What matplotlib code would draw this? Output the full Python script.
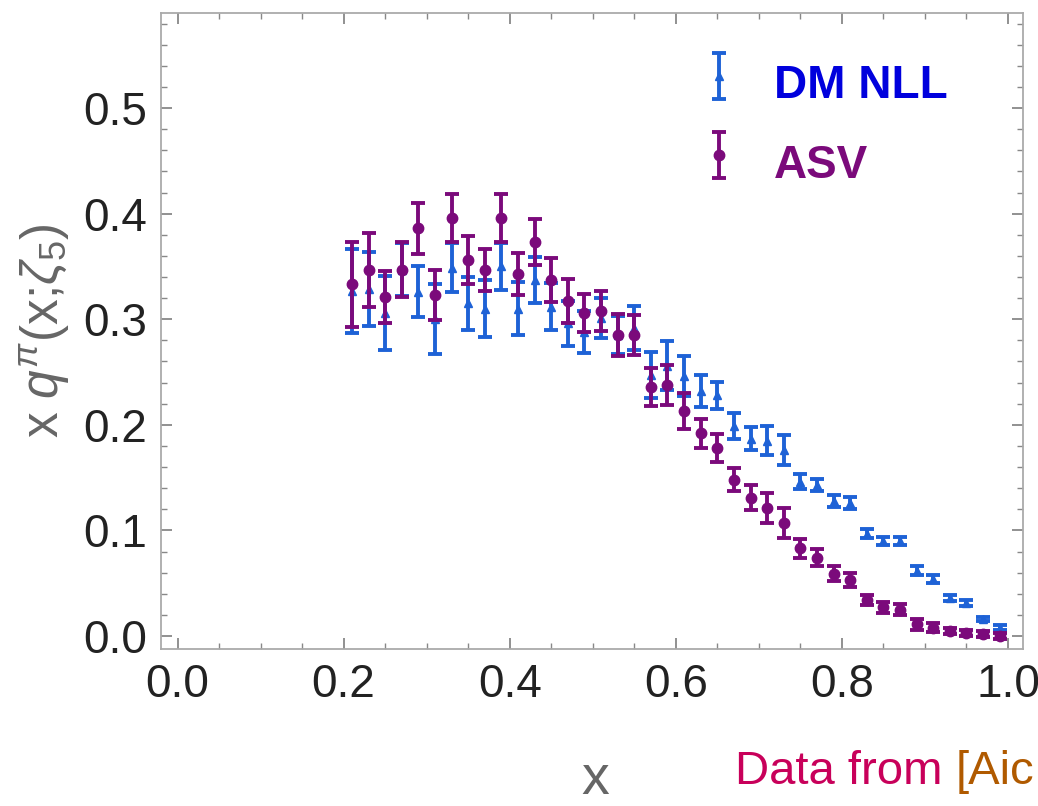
import matplotlib
matplotlib.use("Agg")
import matplotlib.pyplot as plt
import numpy as np
from matplotlib.ticker import MultipleLocator

plt.rcParams['font.family'] = ['Liberation Sans', 'DejaVu Sans']
plt.rcParams['mathtext.fontset'] = 'custom'
plt.rcParams['mathtext.rm'] = 'Liberation Sans'
plt.rcParams['mathtext.it'] = 'Liberation Sans:italic'

x_vals = [0.21, 0.23, 0.25, 0.27, 0.29, 0.31, 0.33, 0.35, 0.37, 0.39,
          0.41, 0.43, 0.45, 0.47, 0.49, 0.51, 0.53, 0.55, 0.57, 0.59,
          0.61, 0.63, 0.65, 0.67, 0.69, 0.71, 0.73, 0.75, 0.77, 0.79,
          0.81, 0.83, 0.85, 0.87, 0.89, 0.91, 0.93, 0.95, 0.97, 0.99]

dm_nll = [0.327, 0.329, 0.306, 0.347, 0.326, 0.300, 0.349, 0.315, 0.310, 0.350,
          0.310, 0.337, 0.312, 0.296, 0.288, 0.301, 0.285, 0.292, 0.247, 0.256,
          0.246, 0.232, 0.228, 0.199, 0.187, 0.185, 0.176, 0.146, 0.143, 0.128,
          0.126, 0.097, 0.090, 0.090, 0.062, 0.054, 0.036, 0.031, 0.016, 0.008]
dm_nll_err = [0.040, 0.035, 0.035, 0.025, 0.024, 0.033, 0.023, 0.025, 0.027, 0.022,
              0.025, 0.022, 0.022, 0.021, 0.020, 0.019, 0.018, 0.021, 0.022, 0.023,
              0.019, 0.015, 0.013, 0.012, 0.011, 0.014, 0.014, 0.007, 0.006, 0.006,
              0.006, 0.004, 0.004, 0.004, 0.004, 0.004, 0.003, 0.003, 0.002, 0.002]

asv = [0.333, 0.347, 0.321, 0.347, 0.386, 0.323, 0.396, 0.356, 0.347, 0.396,
       0.343, 0.373, 0.337, 0.317, 0.306, 0.308, 0.285, 0.285, 0.236, 0.238,
       0.213, 0.192, 0.178, 0.148, 0.131, 0.121, 0.107, 0.083, 0.074, 0.059,
       0.053, 0.034, 0.027, 0.025, 0.011, 0.008, 0.005, 0.003, 0.002, 0.000]
asv_err = [0.040, 0.035, 0.025, 0.026, 0.024, 0.024, 0.023, 0.023, 0.020, 0.023,
           0.020, 0.022, 0.021, 0.021, 0.018, 0.019, 0.020, 0.019, 0.018, 0.019,
           0.017, 0.014, 0.013, 0.011, 0.012, 0.014, 0.014, 0.009, 0.008, 0.007,
           0.007, 0.005, 0.005, 0.005, 0.005, 0.004, 0.003, 0.003, 0.003, 0.003]

x_ticks = [0.0, 0.2, 0.4, 0.6, 0.8, 1.0]
y_ticks = [0.0, 0.1, 0.2, 0.3, 0.4, 0.5]

BLUE = '#1e62d6'
PURPLE = '#7b0a7b'

fig = plt.figure(figsize=(10.38, 8.06), dpi=100)
ax = fig.add_axes([0.155, 0.1948, 0.8305, 0.789])

h1 = ax.errorbar(x_vals, dm_nll, yerr=dm_nll_err, fmt='^', color=BLUE,
                 ms=5.5, elinewidth=2.8, capsize=5, capthick=2.8, zorder=2)
h2 = ax.errorbar(x_vals, asv, yerr=asv_err, fmt='o', color=PURPLE,
                 ms=7.5, elinewidth=2.8, capsize=5, capthick=2.8, zorder=3)

ax.set_xlim(-0.02, 1.018)
ax.set_ylim(-0.0123, 0.59)
ax.set_xticks(x_ticks)
ax.set_xticklabels([f"{t:.1f}" for t in x_ticks])
ax.set_yticks(y_ticks)
ax.set_yticklabels([f"{t:.1f}" for t in y_ticks])
ax.xaxis.set_minor_locator(MultipleLocator(0.05))
ax.yaxis.set_minor_locator(MultipleLocator(0.02))
ax.tick_params(which='both', direction='in', top=True, right=True,
               color='#888888', labelsize=33, labelcolor='#222222', pad=10)
ax.tick_params(which='major', length=8, width=1.3)
ax.tick_params(which='minor', length=4, width=1.0)
for s in ax.spines.values():
    s.set_color('#aaaaaa')
    s.set_linewidth(1.3)

ax.set_ylabel(r'x $q^{\pi}$(x;$\zeta_5$)', fontsize=37, color='#666666', labelpad=8)
fig.text(0.573, 0.0, 'x', fontsize=40, color='#666666', ha='center', va='bottom')

leg = ax.legend([h1, h2], ['DM NLL', 'ASV'], loc='upper left',
                bbox_to_anchor=(0.61, 0.965), frameon=False,
                prop={'size': 33, 'weight': 'bold'}, handlelength=0.6,
                handleheight=1.6, handletextpad=0.9, labelspacing=0.45,
                borderaxespad=0)
for t, c in zip(leg.get_texts(), ['#0000dd', PURPLE]):
    t.set_color(c)

t1 = fig.text(0.708, 0.015, 'Data from ', fontsize=34, color='#c8005a', ha='left', va='bottom')
fig.canvas.draw()
bb = t1.get_window_extent()
x_end = fig.transFigure.inverted().transform((bb.x1, bb.y0))[0]
fig.text(x_end, 0.015, '[Aic', fontsize=34, color='#b05a00', ha='left', va='bottom')

fig.savefig('out.png', dpi=100)
